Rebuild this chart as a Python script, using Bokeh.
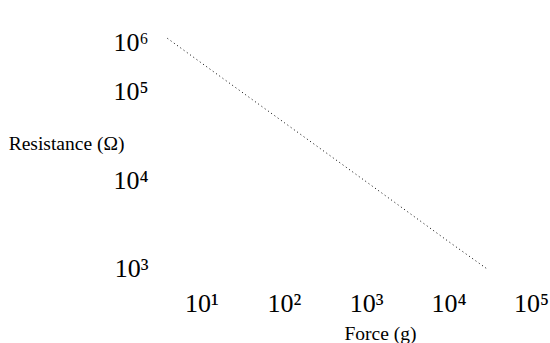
from bokeh.plotting import figure
from bokeh.models import FixedTicker, CustomJSTickFormatter, Title
from bokeh.embed import file_html
from bokeh.resources import INLINE

# ---- data ----
force_g = [3.8, 10, 100, 1000, 10000, 28500]
resistance_ohm = [401000, 209000, 44600, 9500, 2000, 1000]

x_tick_values = [1e1, 1e2, 1e3, 1e4, 1e5]
x_tick_labels = ["10\u00b9", "10\u00b2", "10\u00b3", "10\u2074", "10\u2075"]
y_tick_values = [1e3, 1e4, 1e5, 3.6e5]
y_tick_labels = ["10\u00b3", "10\u2074", "10\u2075", "10\u2076"]

x_title = "Force (g)"
y_title = "Resistance (\u03a9)"

FONT = "Liberation Serif"

p = figure(
    width=550, height=343,
    x_axis_type="log", y_axis_type="log",
    x_range=(10 ** 0.496, 10 ** 5.110),
    y_range=(10 ** 2.876, 10 ** 5.952),
    output_backend="svg", toolbar_location=None,
    min_border_left=160, min_border_right=10,
    min_border_top=7, min_border_bottom=63,
)
p.outline_line_color = None
p.grid.visible = False
p.background_fill_color = "white"
p.border_fill_color = "white"

fmt_code = """
let best = 0, bd = Infinity;
for (let i = 0; i < tvals.length; i++) {
  const d = Math.abs(Math.log10(tick) - Math.log10(tvals[i]));
  if (d < bd) { bd = d; best = i; }
}
return tlabels[best];
"""

for ax, tv, tl in ((p.xaxis[0], x_tick_values, x_tick_labels),
                   (p.yaxis[0], y_tick_values, y_tick_labels)):
    ax.ticker = FixedTicker(ticks=tv, minor_ticks=[])
    ax.formatter = CustomJSTickFormatter(args=dict(tvals=tv, tlabels=tl), code=fmt_code)
    ax.axis_line_color = None
    ax.major_tick_line_color = None
    ax.minor_tick_line_color = None
    ax.major_tick_out = 0
    ax.major_tick_in = 0
    ax.minor_tick_out = 0
    ax.major_label_text_font = FONT
    ax.major_label_text_font_size = "26px"
    ax.major_label_text_color = "black"

p.xaxis.major_label_standoff = 9
p.yaxis.major_label_standoff = 12

# y-axis title, horizontal, tucked left of the tick labels
p.yaxis.axis_label = y_title
p.yaxis.axis_label_orientation = "horizontal"
p.yaxis.axis_label_standoff = -14
p.yaxis.axis_label_text_font = FONT
p.yaxis.axis_label_text_font_size = "19.5px"
p.yaxis.axis_label_text_font_style = "normal"
p.yaxis.axis_label_text_color = "black"

# x-axis title as a below-panel title, offset to the reference position
p.add_layout(Title(text=x_title, align="left", offset=184, standoff=0,
                   text_font=FONT, text_font_size="19.5px", text_font_style="normal",
                   text_color="black"), "below")

p.line(force_g, resistance_ohm, line_color="black", line_width=1, line_dash="1 3")

open("out.html", "w").write(file_html(p, INLINE))
